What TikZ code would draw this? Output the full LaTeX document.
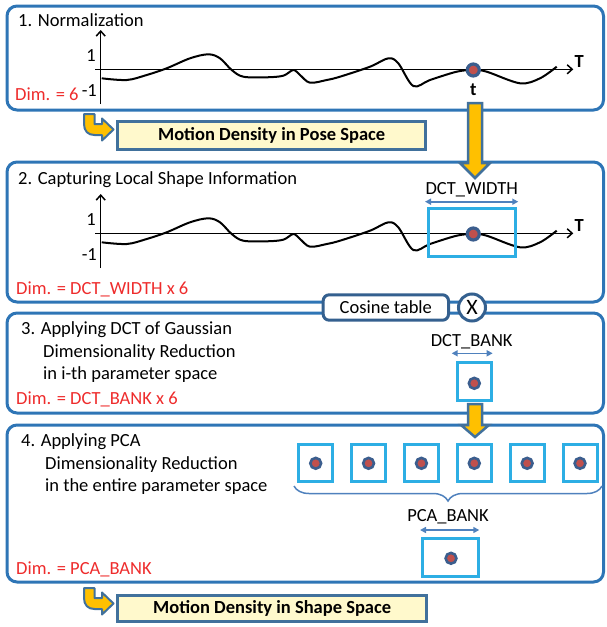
\documentclass[tikz,border=0pt]{standalone}
\usepackage{fontspec}
\setmainfont{Carlito}
\usetikzlibrary{arrows.meta,decorations.pathreplacing,calc}
\definecolor{panelblue}{HTML}{2E75B6}
\definecolor{darkblue}{HTML}{41719C}
\definecolor{coseblue}{HTML}{34608F}
\definecolor{yellowf}{HTML}{FFC000}
\definecolor{paleyellow}{HTML}{FFF9CC}
\definecolor{boxblue}{HTML}{2DAEE4}
\definecolor{dotblue}{HTML}{3B5E8E}
\definecolor{dotred}{HTML}{C0504D}
\definecolor{arrowblue}{HTML}{4F81BD}
\definecolor{dimred}{HTML}{EE2C2C}
\newcommand\mainsz{\fontsize{18.5}{22}\selectfont}
\begin{document}
\begin{tikzpicture}[x=1pt,y=-1pt,
  panel/.style={draw=panelblue, line width=3pt, rounded corners=10pt},
  txt/.style={inner sep=0pt, anchor=base west, font=\mainsz},
  dimtxt/.style={txt, text=dimred},
  lbl/.style={inner sep=0pt, font=\mainsz},
  bluebox/.style={draw=boxblue, line width=3pt, inner sep=0pt},
  dot/.style={circle, draw=dotblue, fill=dotred, line width=2.6pt, inner sep=0pt, minimum size=10.8pt},
  bigdot/.style={circle, draw=dotblue, fill=dotred, line width=3.2pt, inner sep=0pt, minimum size=12pt},
  axis/.style={line width=1.5pt, -{Straight Barb[length=5pt,width=9pt,line width=1.5pt]}},
  curve/.style={line width=2pt, line join=round},
  dbl/.style={draw=arrowblue, line width=1.6pt, {Triangle[length=6pt,width=6pt]}-{Triangle[length=6pt,width=6pt]}},
  yarrow/.style={fill=yellowf, draw=darkblue, line width=2.5pt, line join=miter},
  resbox/.style={draw=darkblue, fill=paleyellow, line width=3pt, inner sep=0pt, font=\mainsz\bfseries},
  uarrow/.style={fill=yellowf, draw=darkblue, line width=2pt, line join=round}
]
\useasboundingbox (0,0) rectangle (606,627);

% panels
\draw[panel] (7,6) rectangle (603.5,110);
\draw[panel] (7,162) rectangle (603.5,302);
\draw[panel] (7,313) rectangle (603.5,413);
\draw[panel] (7,425) rectangle (603.5,582);

% graphs in panels 1 and 2
\foreach \dy/\nm in {0/a,164/b}{
  \begin{scope}[shift={(0,\dy)}]
    \draw[axis] (100.7,104) -- (100.7,30);
    \draw[axis] (95,69.3) -- (573.3,69.3);
    \draw[curve] plot[smooth, tension=0.55] coordinates {(101.7,78.3) (126.7,80) (146.7,75) (166.7,68.3) (190,58.3) (208.3,54.3) (220,58.3) (231.7,70) (243.3,76.7) (266.7,77.3) (283.3,75.7) (293.3,70) (300,75) (310,82.7) (326.7,80) (340,76.7) (370,66.7) (388.3,58.3) (398.3,63.3) (413.3,86) (430,80) (456.7,71.7) (473.3,70) (486.7,71.7) (520,83.3) (540,78.3) (556.7,66.7)};
    \node[lbl, anchor=east] (one\nm) at (96,55.7) {1};
    \node[lbl, anchor=east] (mone\nm) at (97,90.7) {-1};
    \node[lbl, anchor=west, font=\mainsz\bfseries] (T\nm) at (574.5,61) {T};
    \node[bigdot] (dot\nm) at (473.3,70) {};
  \end{scope}
}
\node[lbl, font=\mainsz\bfseries] (tlab) at (473.3,90) {t};

% titles and texts
\node[txt] (t1) at (18,26) {1. Normalization};
\node[dimtxt] (d1) at (15,100) {Dim. = 6};
\node[txt] (t2) at (18,184) {2. Capturing Local Shape Information};
\node[dimtxt] (d2) at (16,294.3) {Dim. = DCT\_WIDTH x 6};
\node[txt] (t3) at (21,334) {3. Applying DCT of Gaussian};
\node[txt] (t3b) at (43,357.7) {Dimensionality Reduction};
\node[txt] (t3c) at (43,379.5) {in i-th parameter space};
\node[dimtxt] (d3) at (16,404.3) {Dim. = DCT\_BANK x 6};
\node[txt] (t4) at (21,446) {4. Applying PCA};
\node[txt] (t4b) at (45,469) {Dimensionality Reduction};
\node[txt] (t4c) at (45,491) {in the entire parameter space};
\node[dimtxt] (d4) at (16,574) {Dim. = PCA\_BANK};

% DCT_WIDTH window
\draw[bluebox] (428.2,208.2) rectangle (515.8,256.8);
\node[lbl] (dctw) at (471.7,189.3) {DCT\_WIDTH};
\coordinate (w1) at (425,201.7);
\coordinate (w2) at (518.3,201.7);
\draw[dbl] (w1) -- (w2);

% cosine table and multiply
\node[draw=coseblue, fill=white, line width=3pt, rounded corners=6pt, minimum width=125.3pt, minimum height=25.4pt, inner sep=0pt, font=\mainsz] (cos) at (385.85,307.5) {Cosine table};
\node[circle, draw=coseblue, fill=white, line width=3pt, minimum size=27pt, inner sep=0pt, font=\fontsize{22}{22}\selectfont] (mul) at (472,307.5) {X};

% DCT_BANK
\node[lbl] (dctb) at (471.7,341.7) {DCT\_BANK};
\coordinate (b1) at (451.7,353.3);
\coordinate (b2) at (492.7,353.3);
\draw[dbl] (b1) -- (b2);
\node[bluebox, minimum width=33.7pt, minimum height=37.7pt] (bbox) at (474.3,381.3) {};
\node[dot] (bdot) at (474.3,383.3) {};

% six boxes
\foreach \i in {0,...,5}{
  \node[bluebox, minimum width=34pt, minimum height=37pt] (sb\i) at ({315.7+52.86*\i},462.7) {};
  \node[dot] (sd\i) at ({315.7+52.86*\i},463.3) {};
}
\coordinate (br1) at (294,486);
\coordinate (br2) at (602,486);
\draw[draw=arrowblue, line width=1.5pt, decorate, decoration={brace, mirror, amplitude=15pt}] (br1) -- (br2);

% PCA_BANK
\node[lbl] (pcab) at (448,516.7) {PCA\_BANK};
\coordinate (p1) at (420,530);
\coordinate (p2) at (479.3,530);
\draw[dbl] (p1) -- (p2);
\node[bluebox, minimum width=56.3pt, minimum height=37.4pt] (pbox) at (450.3,557.5) {};
\node[dot] (pdot) at (451,558.3) {};

% big yellow arrows
\coordinate (a1s) at (475,103);
\coordinate (a1e) at (475,178);
\draw[yarrow] ($(a1s)+(-7,0)$) -- ($(a1e)+(-7,-15)$) -- ($(a1e)+(-15,-15)$) -- (a1e) -- ($(a1e)+(15,-15)$) -- ($(a1e)+(7,-15)$) -- ($(a1s)+(7,0)$) -- cycle;
\coordinate (a2s) at (475,404);
\coordinate (a2e) at (475,437);
\draw[yarrow] ($(a2s)+(-7,0)$) -- ($(a2e)+(-7,-12)$) -- ($(a2e)+(-14,-12)$) -- (a2e) -- ($(a2e)+(14,-12)$) -- ($(a2e)+(7,-12)$) -- ($(a2s)+(7,0)$) -- cycle;

% result boxes
\node[resbox, minimum width=308.3pt, minimum height=27.5pt] (pose) at (271.65,135.25) {Motion Density in Pose Space};
\node[resbox, minimum width=309.3pt, minimum height=26.3pt] (shape) at (272.15,608.65) {Motion Density in Shape Space};

% U-turn arrows
\foreach \dy/\nm in {0/p,474/s}{
  \begin{scope}[shift={(0,\dy)}]
    \coordinate (u\nm) at (113.5,129.5);
    \draw[uarrow] (84,114) -- (84,124) .. controls (84,131) and (88,135) .. (94.5,135) -- (102,135) -- (102,140.5) -- (u\nm) -- (102,118.5) -- (102,124) -- (94.5,124) -- (94.5,114) -- cycle;
  \end{scope}
}
\end{tikzpicture}
\end{document}
